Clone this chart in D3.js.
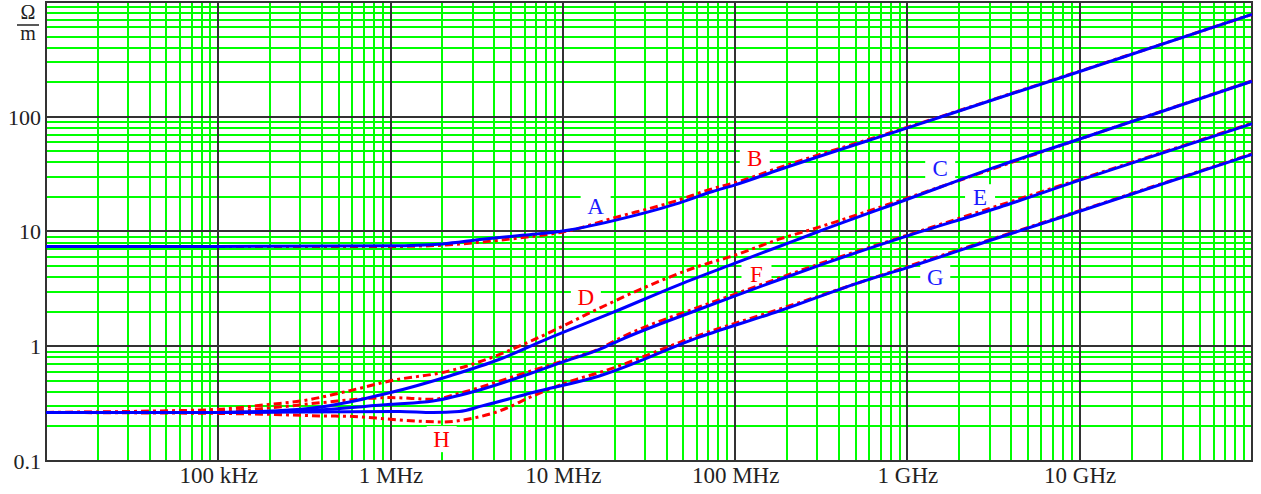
<!DOCTYPE html>
<html><head><meta charset="utf-8">
<script src="https://cdn.jsdelivr.net/npm/d3@7"></script>
<style>
body{margin:0;background:#fff}
svg{display:block}
text{font-family:"Liberation Serif","DejaVu Serif",serif}
</style>
</head><body>
<svg id="c" width="1261" height="494"></svg>
<script>
// ---- data (frequency in Hz, impedance in ohm/m) ----
const curveA = [[1e4,7.4],[1e5,7.4],[1e6,7.5],[2e6,7.8],[3.3e6,8.5],[6e6,9.3],[1e7,10.1],[2e7,12.5],[4.5e7,17.3],[7.4e7,22.3],[1e8,25.5],[1.8e8,34.5],[1e9,80],[1e10,248],[1e11,780]];
const curveB = [[1e4,7.4],[1e5,7.4],[1e6,7.4],[2e6,7.6],[3.3e6,8.07],[6e6,8.9],[1e7,9.9],[2e7,13.2],[4.5e7,18.4],[7.4e7,23.6],[1e8,26.6],[1.8e8,36],[1e9,81],[1e10,250],[1e11,780]];
const curveC = [[1e4,0.265],[1e5,0.265],[3e5,0.282],[1e6,0.395],[2.2e6,0.551],[4.3e6,0.77],[8e6,1.15],[1.95e7,1.97],[4.75e7,3.45],[1e8,5.3],[1.8e8,7.4],[3e8,9.9],[1e9,19.1],[3.4e9,37.3],[1e10,64],[1e11,204]];
const curveD = [[1e4,0.265],[4.4e4,0.273],[1e5,0.282],[2e5,0.312],[3e5,0.333],[5.8e5,0.41],[1e6,0.5],[2.2e6,0.61],[3.4e6,0.745],[6.7e6,1.13],[1e7,1.5],[1.43e7,1.95],[3.05e7,3.3],[6.2e7,5.0],[9.7e7,6.13],[1.8e8,8.57],[3e8,10.8],[1e9,19.6],[1e10,64],[1e11,205]];
const curveE = [[1e4,0.265],[1e5,0.265],[3e5,0.273],[1e6,0.312],[1.76e6,0.333],[3.4e6,0.422],[6.7e6,0.59],[1e7,0.73],[1.63e7,0.94],[2.2e7,1.15],[6.2e7,2.1],[1e8,2.75],[1.8e8,3.8],[3e8,5.0],[1e9,9.15],[3.4e9,16.2],[1e10,28],[1e11,87]];
const curveF = [[1e4,0.265],[1e5,0.27],[2e5,0.29],[4e5,0.323],[1e6,0.357],[1.76e6,0.345],[2.6e6,0.395],[5.3e6,0.551],[1.07e7,0.77],[1.63e7,0.95],[2.2e7,1.2],[6.2e7,2.2],[1e8,2.85],[3e8,5.15],[1e9,9.3],[1e10,28.5],[1e11,88]];
const curveG = [[1e4,0.265],[1e5,0.265],[1.13e6,0.27],[1.76e6,0.264],[2.5e6,0.27],[3.4e6,0.302],[6.7e6,0.395],[1.63e7,0.551],[6.2e7,1.2],[1.8e8,2.03],[5.25e8,3.59],[1e9,4.85],[3.4e9,8.87],[1e10,15],[1e11,47]];
const curveH = [[1e4,0.265],[4.4e4,0.262],[1e5,0.26],[2e5,0.255],[4e5,0.247],[5.8e5,0.245],[1e6,0.231],[1.4e6,0.223],[2e6,0.219],[3e6,0.236],[4.3e6,0.273],[6.7e6,0.369],[1.2e7,0.515],[1.63e7,0.59],[6.2e7,1.25],[1.8e8,2.1],[1e9,4.95],[1e10,15.2],[1e11,47.5]];

const curveNames = ["A","B","C","D","E","F","G","H"];
const curveData  = [curveA,curveB,curveC,curveD,curveE,curveF,curveG,curveH];
// label anchor positions [freq, value]
const labelPos = [[1.55e7,16.4],[1.3e8,43.5],[1.55e9,35.6],[1.36e7,2.67],[2.64e9,19.9],[1.33e8,4.2],[1.45e9,4.0],[1.98e6,0.155]];

const xTickValues = [1e5,1e6,1e7,1e8,1e9,1e10];
const xTickLabels = ["100 kHz","1 MHz","10 MHz","100 MHz","1 GHz","10 GHz"];
const yTickValues = [0.1,1,10,100];
const yTickLabels = ["0.1","1","10","100"];

// ---- drawing ----
const FONT = "'Liberation Serif','DejaVu Serif',serif";
const svg = d3.select("#c");
const L=46, R=1252, T=2, B=461;
const x = d3.scaleLog().domain([1e4,1e11]).range([L,R]);
const y = d3.scaleLog().domain([0.1,1000]).range([B,T]);

const blue="#0000ff", red="#ff0000", green="#00ff00", major="#333333";

// minor grid
const minorX=[], minorY=[];
for(let e=4;e<11;e++) for(let m=2;m<=9;m++) minorX.push(m*Math.pow(10,e));
for(let e=-1;e<3;e++) for(let m=2;m<=9;m++) minorY.push(m*Math.pow(10,e));
const g = svg.append("g");
g.selectAll(".mx").data(minorX).enter().append("line")
  .attr("x1",d=>Math.round(x(d))).attr("x2",d=>Math.round(x(d)))
  .attr("y1",T).attr("y2",B).attr("stroke",green).attr("stroke-width",2);
g.selectAll(".my").data(minorY).enter().append("line")
  .attr("y1",d=>Math.round(y(d))).attr("y2",d=>Math.round(y(d)))
  .attr("x1",L).attr("x2",R).attr("stroke",green).attr("stroke-width",2);
// major grid
const majorX=[1e5,1e6,1e7,1e8,1e9,1e10], majorY=[1,10,100];
g.selectAll(".Mx").data(majorX).enter().append("line")
  .attr("x1",d=>Math.round(x(d))).attr("x2",d=>Math.round(x(d)))
  .attr("y1",T).attr("y2",B).attr("stroke",major).attr("stroke-width",2);
g.selectAll(".My").data(majorY).enter().append("line")
  .attr("y1",d=>Math.round(y(d))).attr("y2",d=>Math.round(y(d)))
  .attr("x1",L).attr("x2",R).attr("stroke",major).attr("stroke-width",2);

// frame
svg.append("rect").attr("x",L).attr("y",T).attr("width",R-L).attr("height",B-T)
  .attr("fill","none").attr("stroke",major).attr("stroke-width",2);

// label boxes (white backgrounds)
const isRed = n => "BDFH".includes(n);
svg.selectAll(".lb").data(labelPos).enter().append("rect")
  .attr("x",d=>x(d[0])-15).attr("y",d=>y(d[1])-13).attr("width",30).attr("height",26)
  .attr("fill","#fff");

// curves
const line = d3.line().x(d=>x(d[0])).y(d=>y(d[1])).curve(d3.curveMonotoneX);
const order=[1,3,5,7,0,2,4,6];
order.forEach(i=>{
  svg.append("path").datum(curveData[i]).attr("d",line)
    .attr("fill","none")
    .attr("stroke",isRed(curveNames[i])?red:blue)
    .attr("stroke-width",3)
    .attr("stroke-dasharray",isRed(curveNames[i])?"8,4,3,4":null)
    .attr("stroke-linejoin","round");
});

// curve labels
svg.selectAll(".cl").data(curveNames).enter().append("text")
  .attr("x",(d,i)=>x(labelPos[i][0])).attr("y",(d,i)=>y(labelPos[i][1])+7.5)
  .attr("text-anchor","middle").style("font-size","23px").style("font-family",FONT)
  .attr("fill",d=>isRed(d)?red:"#1a1aff").text(d=>d);

// x axis
const xAxis = d3.axisBottom(x).tickValues(xTickValues)
  .tickFormat((d,i)=>xTickLabels[i]).tickSize(0).tickPadding(0);
const gx = svg.append("g").attr("transform",`translate(0,${B})`).call(xAxis);
gx.select(".domain").remove();
gx.selectAll("text").attr("y",22).attr("dy",0)
  .style("font-size","23px").style("font-family",FONT).attr("fill","#222");

// y axis
const yAxis = d3.axisLeft(y).tickValues(yTickValues)
  .tickFormat((d,i)=>yTickLabels[i]).tickSize(0).tickPadding(0);
const gy = svg.append("g").attr("transform",`translate(${L},0)`).call(yAxis);
gy.select(".domain").remove();
gy.selectAll("text").attr("x",-5).attr("dy","0.34em")
  .style("font-size","22px").style("font-family",FONT).attr("fill","#222");

// unit label Ω/m (one text, two lines)
const unit = svg.append("text").attr("text-anchor","middle")
  .style("font-size","20px").style("font-family",FONT).attr("fill","#222");
unit.append("tspan").attr("x",28).attr("y",19).text("Ω");
unit.append("tspan").attr("x",28).attr("y",40).text("m");
svg.append("line").attr("x1",17).attr("x2",39).attr("y1",25).attr("y2",25)
  .attr("stroke","#222").attr("stroke-width",1.5);
</script>
</body></html>
